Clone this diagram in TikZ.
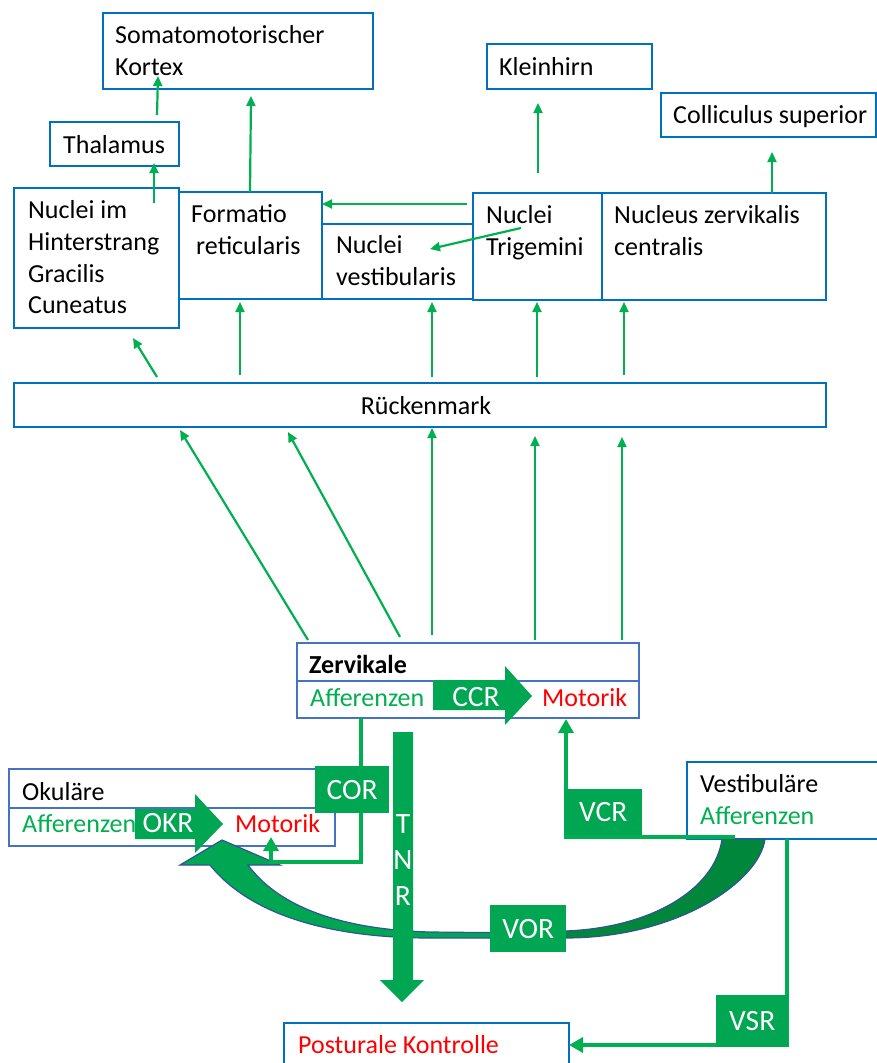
\documentclass[tikz,border=0pt]{standalone}
\usepackage{fontspec}
\setmainfont{Carlito}
\usetikzlibrary{arrows.meta}
\definecolor{bblue}{HTML}{0070C0}
\definecolor{bblue2}{HTML}{4472C4}
\definecolor{agreen}{HTML}{00B050}
\definecolor{fgreen}{HTML}{00A651}
\definecolor{dgreen}{HTML}{00873C}
\definecolor{oblue}{HTML}{2F5597}
\definecolor{tred}{HTML}{FF0000}
\begin{document}
\begin{tikzpicture}[x=1pt,y=-1pt,
 box/.style={draw=bblue,line width=2.4pt,anchor=north west,inner sep=0pt,outer sep=0pt},
 boxb/.style={draw=bblue2,line width=1.8pt,anchor=north west,inner sep=0pt,outer sep=0pt},
 txt/.style={anchor=base west,inner sep=0pt,font=\fontsize{26}{31}\selectfont},
 lbl/.style={fill=fgreen,text=white,inner sep=0pt,anchor=north west,font=\fontsize{29.5}{34}\selectfont},
 arr/.style={draw=agreen,line width=2.2pt,-{Triangle[length=10pt,width=9pt]}},
 tarr/.style={draw=agreen,line width=4pt,-{Triangle[length=14pt,width=15pt]}},
 tline/.style={draw=agreen,line width=4pt},
 blockarrow/.style={fill=fgreen},
 wtxt/.style={anchor=base,inner sep=0pt,text=white,font=\fontsize{29.5}{34}\selectfont},
]
\useasboundingbox (0,0) rectangle (877,1063);

% ---------- boxes ----------
\node[box,minimum width=270pt,minimum height=76pt] (kor) at (103,13) {};
\node[box,minimum width=129pt,minimum height=44pt] (thal) at (50,122) {};
\node[box,minimum width=165pt,minimum height=140pt] (nih) at (14,188) {};
\node[box,minimum width=143pt,minimum height=107pt] (form) at (179,192) {};
\node[box,minimum width=151pt,minimum height=75pt] (nves) at (322,224) {};
\node[box,minimum width=129pt,minimum height=107pt] (ntri) at (473,193) {};
\node[box,minimum width=224pt,minimum height=107pt] (nzc) at (602,193) {};
\node[box,minimum width=165pt,minimum height=45pt] (klein) at (487,44) {};
\node[box,minimum width=215pt,minimum height=44pt] (coll) at (661,93) {};
\node[box,minimum width=812pt,minimum height=44pt] (rm) at (14,383) {};
\node[boxb,minimum width=342pt,minimum height=75pt] (zerv) at (297,643) {};
\draw[bblue2,line width=1.5pt] (297,681) -- (639,681);
\node[boxb,minimum width=326pt,minimum height=77pt] (okul) at (9,769) {};
\draw[bblue2,line width=1.5pt] (9,808) -- (335,808);
\node[box,line width=2pt,minimum width=200pt,minimum height=77pt] (vest) at (687,762) {};
\node[box,line width=2pt,minimum width=285pt,minimum height=60pt] (post) at (284,1023) {};

% ---------- coordinates for connector ends ----------
\coordinate (a1s) at (157,115); \coordinate (a1e) at (158,76);
\coordinate (a2s) at (154,203); \coordinate (a2e) at (154,163);
\coordinate (a3s) at (250,192); \coordinate (a3e) at (251,96);
\coordinate (a4s) at (467,204); \coordinate (a4e) at (322,204);
\coordinate (a5s) at (521,228); \coordinate (a5e) at (430,249);
\coordinate (a6s) at (538,173); \coordinate (a6e) at (538,103);
\coordinate (a7s) at (772,193); \coordinate (a7e) at (772,152);
\coordinate (r1s) at (157,377); \coordinate (r1e) at (133,338);
\coordinate (r2s) at (240,375); \coordinate (r2e) at (240,302);
\coordinate (r3s) at (432,377); \coordinate (r3e) at (432,302);
\coordinate (r4s) at (537,377); \coordinate (r4e) at (537,302);
\coordinate (r5s) at (624,375); \coordinate (r5e) at (624,302);
\coordinate (z1s) at (308,640); \coordinate (z1e) at (180,430);
\coordinate (z2s) at (400,637); \coordinate (z2e) at (288,432);
\coordinate (z3s) at (432,635); \coordinate (z3e) at (432,428);
\coordinate (z4s) at (535,640); \coordinate (z4e) at (535,436);
\coordinate (z5s) at (622,640); \coordinate (z5e) at (622,437);

% ---------- thin arrows ----------
\draw[arr] (a1s) -- (a1e);
\draw[arr] (a2s) -- (a2e);
\draw[arr] (a3s) -- (a3e);
\draw[arr] (a4s) -- (a4e);
\draw[arr] (a5s) -- (a5e);
\draw[arr] (a6s) -- (a6e);
\draw[arr] (a7s) -- (a7e);
\draw[arr] (r1s) -- (r1e);
\draw[arr] (r2s) -- (r2e);
\draw[arr] (r3s) -- (r3e);
\draw[arr] (r4s) -- (r4e);
\draw[arr] (r5s) -- (r5e);
\draw[arr] (z1s) -- (z1e);
\draw[arr] (z2s) -- (z2e);
\draw[arr] (z3s) -- (z3e);
\draw[arr] (z4s) -- (z4e);
\draw[arr] (z5s) -- (z5e);

% ---------- VOR curved arrow ----------
\filldraw[fill=dgreen,draw=oblue,line width=1.2pt]
  (520,933) -- (565,931) .. controls (650,928) and (715,890) .. (722,839)
  -- (765,839) .. controls (760,880) and (680,938) .. (565,938) -- (520,938) -- cycle;
\filldraw[fill=fgreen,draw=oblue,line width=1.2pt]
  (180,865) -- (222,840) -- (280,865) -- (248,865)
  .. controls (285,915) and (360,930) .. (430,932) -- (530,933)
  -- (530,938) -- (430,938) .. controls (330,938) and (250,915) .. (210,865) -- cycle;

% ---------- TNR arrow ----------
\fill[fgreen] (393,732) -- (413,732) -- (413,980) -- (424,980) -- (402,1002) -- (380,980) -- (393,980) -- cycle;

% ---------- COR, VCR, VSR connectors ----------
\coordinate (cors) at (361,718); \coordinate (cor1) at (361,862); \coordinate (cor2) at (271,862); \coordinate (core) at (271,837);
\draw[tarr] (cors) -- (cor1) -- (cor2) -- (core);
\coordinate (vcrs) at (735,837); \coordinate (vcr1) at (566,837); \coordinate (vcre) at (566,719);
\draw[tarr] (vcrs) -- (vcr1) -- (vcre);
\coordinate (vsrs) at (787,839); \coordinate (vsr1) at (787,1045); \coordinate (vsre) at (569,1045);
\draw[tarr] (vsrs) -- (vsr1) -- (vsre);

% ---------- block arrows ----------
\fill[blockarrow] (433,680) -- (505,680) -- (505,666) -- (532,696) -- (505,725) -- (505,710) -- (433,710) -- cycle;
\fill[blockarrow] (135,809) -- (195,809) -- (195,794) -- (223,824) -- (195,853) -- (195,839) -- (135,839) -- cycle;

% ---------- labels ----------
\node[lbl,minimum width=74pt,minimum height=47pt] (cor) at (315,766) {COR};
\node[lbl,minimum width=78pt,minimum height=46pt] (vcr) at (564,789) {VCR};
\node[lbl,minimum width=76pt,minimum height=47pt] (vor) at (490,905) {VOR};
\node[lbl,minimum width=72pt,minimum height=52pt] (vsr) at (716,995) {VSR};
\node[wtxt] (ccr) at (476,706) {CCR};
\node[wtxt] (okr) at (168,832) {OKR};
\node[wtxt] (tT) at (403,833) {T};
\node[wtxt] (tN) at (403,869) {N};
\node[wtxt] (tR) at (403,905) {R};

% ---------- texts ----------
\node[txt] (t1) at (115,43) {Somatomotorischer};
\node[txt] (t2) at (115,75) {Kortex};
\node[txt] (t3) at (63,153) {Thalamus};
\node[txt] (t4) at (28,218) {Nuclei im};
\node[txt] (t5) at (28,250) {Hinterstrang};
\node[txt] (t6) at (28,282) {Gracilis};
\node[txt] (t7) at (28,313) {Cuneatus};
\node[txt] (t8) at (191,222) {Formatio};
\node[txt] (t9) at (196,254) {reticularis};
\node[txt] (t10) at (336,253) {Nuclei};
\node[txt] (t11) at (336,285) {vestibularis};
\node[txt] (t12) at (499,75) {Kleinhirn};
\node[txt] (t13) at (673,123) {Colliculus superior};
\node[txt] (t14) at (486,223) {Nuclei};
\node[txt] (t15) at (486,255) {Trigemini};
\node[txt] (t16) at (614,223) {Nucleus zervikalis};
\node[txt] (t17) at (614,255) {centralis};
\node[txt,anchor=base] (t18) at (426,414) {Rückenmark};
\node[txt,font=\fontsize{26}{31}\selectfont\bfseries] (t19) at (309,673) {Zervikale};
\node[txt,text=agreen] (t20) at (310,706) {Afferenzen};
\node[txt,text=tred] (t21) at (542,706) {Motorik};
\node[txt] (t22) at (22,800) {Okuläre};
\node[txt,text=agreen] (t23) at (22,832) {Afferenzen};
\node[txt,text=tred] (t24) at (235,832) {Motorik};
\node[txt] (t25) at (700,792) {Vestibuläre};
\node[txt,text=agreen] (t26) at (700,824) {Afferenzen};
\node[txt,text=tred] (t27) at (298,1053) {Posturale Kontrolle};
\end{tikzpicture}
\end{document}
